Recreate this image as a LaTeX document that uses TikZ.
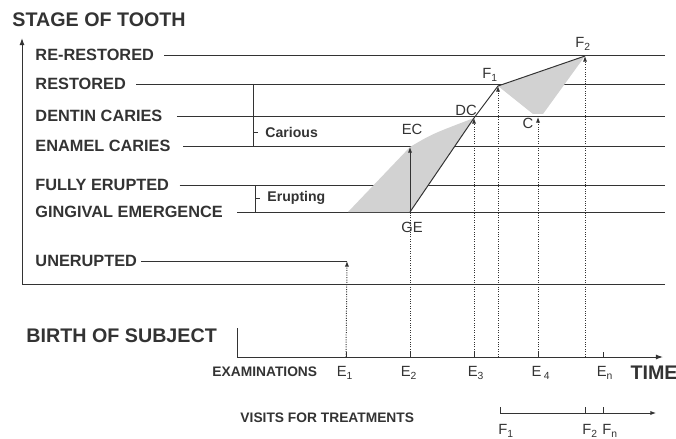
\documentclass[tikz,border=0pt]{standalone}
\usepackage{fontspec}
\setmainfont{Liberation Sans}
\usetikzlibrary{arrows.meta}
\definecolor{ink}{HTML}{333333}
\definecolor{patch}{HTML}{D2D2D2}

\begin{document}
\begin{tikzpicture}[x=0.025cm, y=-0.025cm, color=ink, line width=0.7pt,
  every node/.style={inner sep=0pt},
  stage/.style={anchor=west, font=\bfseries\fontsize{11.6}{12}\selectfont},
  big/.style={anchor=west, font=\bfseries\fontsize{14}{15}\selectfont},
  small/.style={anchor=west, font=\bfseries\fontsize{9.8}{11}\selectfont},
  pt/.style={font=\fontsize{10.5}{11}\selectfont},
  tip/.style={-{Latex[length=4pt,width=3pt]}},
  visit/.style={densely dotted, tip}]
\useasboundingbox (0,0) rectangle (676,439);

% stages of the tooth
\node[big] (stage) at (12,20) {STAGE OF TOOTH};
\node[stage] (rr) at (35,55) {RE-RESTORED};
\node[stage] (rs) at (35,84) {RESTORED};
\node[stage] (dc) at (35,116) {DENTIN CARIES};
\node[stage] (ec) at (35,146) {ENAMEL CARIES};
\node[stage] (fe) at (35,185) {FULLY ERUPTED};
\node[stage] (gem) at (35,212) {GINGIVAL EMERGENCE};
\node[stage] (un) at (35,261) {UNERUPTED};

\coordinate (rend) at (665,0);
\coordinate (unend) at (347,261);
\draw (rr.east) ++(10,0) -- (rr.east -| rend);
\draw (rs.east) ++(10,0) -- (rs.east -| rend);
\draw (dc.east) ++(14,0) -- (dc.east -| rend);
\draw (ec.east) ++(12,0) -- (ec.east -| rend);
\draw (fe.east) ++(10,0) -- (fe.east -| rend);
\draw (gem.east) ++(14,0) -- (gem.east -| rend);
\draw (un.east) ++(4,0) -- (unend);

% brackets
\node[pt, anchor=west, font=\bfseries\fontsize{10}{11}\selectfont] (carious) at (265,132) {Carious};
\node[pt, anchor=west, font=\bfseries\fontsize{10}{11}\selectfont] (erupting) at (267,198) {Erupting};
\coordinate (car1) at (253,84);
\coordinate (car2) at (253,146);
\coordinate (eru1) at (255,185);
\coordinate (eru2) at (255,212);
\draw (car1) -- (car2);
\draw (carious.west -| car1) -- ++(5,0);
\draw (eru1) -- (eru2);
\draw (erupting.west -| eru1) -- ++(5,0);

% axes
\coordinate (origin) at (22,284);
\coordinate (ytop) at (22,38);
\coordinate (xend) at (665,284);
\draw[-{Latex[length=5pt,width=3.5pt]}] (xend) -- (origin) -- (ytop);

% events
\coordinate (GE) at (410,212);
\coordinate (EC) at (410,147);
\coordinate (DC) at (474,118);
\coordinate (F1) at (498,86);
\coordinate (F2) at (585,56);
\coordinate (C) at (538,117);

\fill[patch] (348,212) -- (EC) .. controls (432,134) .. (DC) -- (GE) -- cycle;
\fill[patch] (F1) -- (F2) -- (543,114) -- (533,114) -- cycle;
\draw (GE) -- (DC) -- (F1) -- (F2);
\draw[tip] (GE) -- (EC);

\node[pt] (lGE) at (412,227) {GE};
\node[pt] (lEC) at (412,129) {EC};
\node[pt] (lDC) at (466,110) {DC};
\node[pt] (lF1) at (490,75) {F\textsubscript{1}};
\node[pt] (lF2) at (583,44) {F\textsubscript{2}};
\node[pt] (lC) at (528,123) {C};

% time line
\coordinate (birthtop) at (237,328);
\coordinate (birth) at (237,357);
\coordinate (tend) at (663,357);
\coordinate (e1) at (346,357);
\coordinate (e2) at (410,357);
\coordinate (e3) at (474,357);
\coordinate (v1) at (498,357);
\coordinate (e4) at (538,357);
\coordinate (v2) at (585,357);
\coordinate (en) at (603,357);
\draw[-{Latex[length=5pt,width=3.5pt]}] (birthtop) -- (birth) -- (tend);
\foreach \c in {e1,e2,e3,e4,en}
  \draw (\c) -- ++(0,-5);

\draw[visit] (e1) -- (unend);
\draw[densely dotted] (e2) -- (GE);
\draw[visit] (e3) -- (DC);
\draw[visit] (v1) -- (F1);
\draw[visit] (e4) -- (C);
\draw[visit] (v2) -- (F2);

\node[big] (birthlbl) at (26,336) {BIRTH OF SUBJECT};
\node[small] (exam) at (212,372) {EXAMINATIONS};
\node[pt] (le1) at (345,373) {E\textsubscript{1}};
\node[pt] (le2) at (409,373) {E\textsubscript{2}};
\node[pt] (le3) at (476,373) {E\textsubscript{3}};
\node[pt] (le4) at (541,373) {E\,\textsubscript{4}};
\node[pt] (len) at (605,373) {E\textsubscript{n}};
\node[big] (time) at (630,373) {TIME};

% visits for treatments
\node[small] (visits) at (240,418) {VISITS FOR TREATMENTS};
\coordinate (w1) at (500,413);
\coordinate (w2) at (585,413);
\coordinate (wn) at (603,413);
\coordinate (wend) at (656,413);
\draw[-{Latex[length=4pt,width=3pt]}] (w1) -- (wend);
\foreach \c in {w1,w2,wn}
  \draw (\c) -- ++(0,-6);
\node[pt] (lv1) at (506,431) {F\textsubscript{1}};
\node[pt] (lv2) at (590,431) {F\textsubscript{2}};
\node[pt] (lvn) at (610,431) {F\textsubscript{n}};
\end{tikzpicture}
\end{document}
